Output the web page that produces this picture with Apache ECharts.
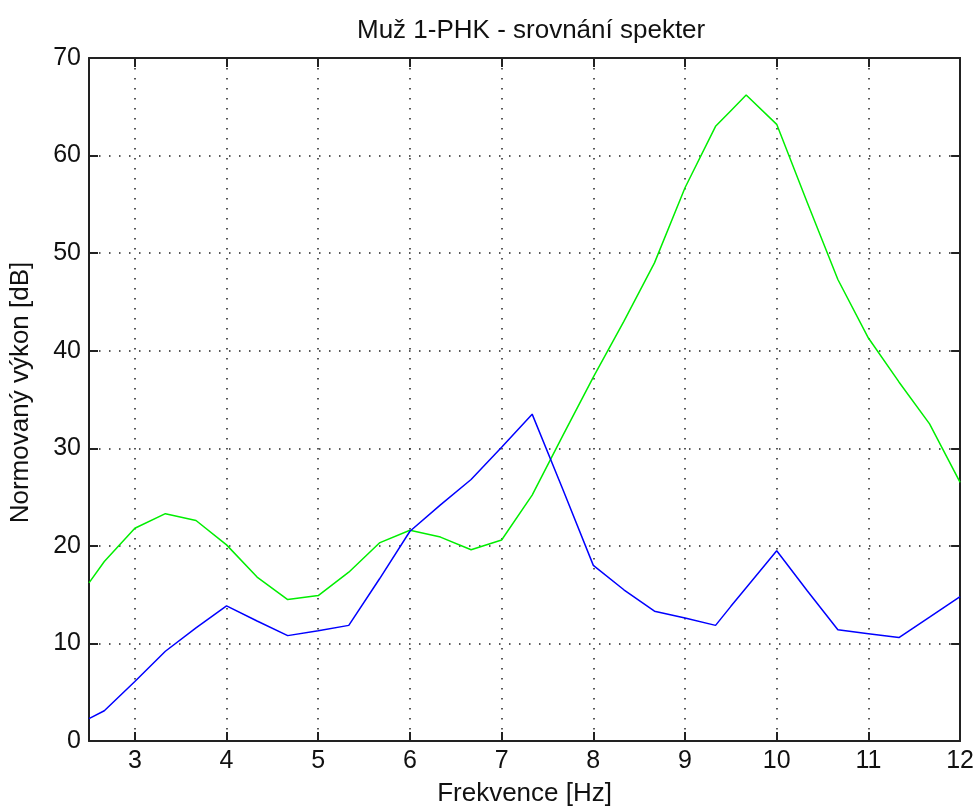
<!DOCTYPE html>
<html>
<head>
<meta charset="utf-8">
<title>Muž 1-PHK - srovnání spekter</title>
<script src="https://cdn.jsdelivr.net/npm/echarts@6/dist/echarts.min.js"></script>
<style>
  html, body { margin: 0; padding: 0; background: #fff; }
  #chart { width: 977px; height: 812px; }
</style>
</head>
<body>
<div id="chart"></div>
<script>
  // frekvence [Hz] - body
  var freq = [2.5, 2.667, 3, 3.333, 3.667, 4, 4.333, 4.667, 5, 5.333, 5.667, 6, 6.333, 6.667, 7,
              7.333, 7.667, 8, 8.333, 8.667, 9, 9.333, 9.5, 9.667, 10, 10.333, 10.667, 11, 11.333, 11.667, 12];
  // zelená křivka
  var zelena = [16.2, 18.4, 21.8, 23.3, 22.6, 20.1, 16.8, 14.5, 14.9, 17.3, 20.3, 21.6, 20.9, 19.6, 20.6,
                25.2, 31.3, 37.3, 43.0, 49.0, 56.7, 63.0, 64.6, 66.2, 63.2, 55.2, 47.3, 41.3, 36.8, 32.5, 26.5];
  // modrá křivka
  var modra = [2.3, 3.1, 6.1, 9.2, 11.6, 13.85, 12.3, 10.8, 11.3, 11.85, 16.6, 21.5, 24.2, 26.8, 30.1,
               33.5, 25.8, 18.0, 15.5, 13.3, 12.6, 11.85, 13.8, 15.7, 19.5, 15.4, 11.4, 11.0, 10.6, 12.7, 14.8];
  var xTicks = [3, 4, 5, 6, 7, 8, 9, 10, 11, 12];

  var font = '"Liberation Sans", Arial, sans-serif';

  function pary(vals) {
    return freq.map(function (f, i) { return [f, vals[i]]; });
  }

  var myChart = echarts.init(document.getElementById('chart'));

  var gridLine = { show: true, lineStyle: { color: '#222', width: 1.5, type: [1.5, 8.5] } };

  myChart.setOption({
    backgroundColor: '#fff',
    animation: false,
    title: {
      text: 'Muž 1-PHK - srovnání spekter',
      left: 352,
      top: 13,
      textStyle: { fontFamily: font, fontSize: 26, fontWeight: 'normal', color: '#111' }
    },
    grid: { left: 89, right: 16, top: 58, bottom: 68 },
    xAxis: [{
      type: 'value',
      min: 2.5,
      max: 12,
      name: 'Frekvence [Hz]',
      nameLocation: 'middle',
      nameGap: 40,
      nameTextStyle: { fontFamily: font, fontSize: 26, color: '#111' },
      axisLine: { show: true, onZero: false, lineStyle: { color: '#222', width: 2 } },
      axisTick: { show: true, inside: true, length: 9, customValues: xTicks, lineStyle: { color: '#222', width: 2 } },
      axisLabel: { customValues: xTicks, margin: 8, fontFamily: font, fontSize: 25, color: '#111' },
      splitLine: gridLine
    }, {
      // horní hrana rámečku
      type: 'value',
      position: 'top',
      min: 2.5,
      max: 12,
      axisLine: { show: true, onZero: false, lineStyle: { color: '#222', width: 2 } },
      axisTick: { show: true, inside: true, length: 9, customValues: xTicks, lineStyle: { color: '#222', width: 2 } },
      axisLabel: { show: false },
      splitLine: { show: false }
    }],
    yAxis: [{
      type: 'value',
      min: 0,
      max: 70,
      interval: 10,
      name: 'Normovaný výkon [dB]',
      nameLocation: 'middle',
      nameGap: 55,
      nameTextStyle: { fontFamily: font, fontSize: 26, color: '#111', padding: [0, 0, 0, 14] },
      axisLine: { show: true, onZero: false, lineStyle: { color: '#222', width: 2 } },
      axisTick: { show: true, inside: true, length: 9, lineStyle: { color: '#222', width: 2 } },
      axisLabel: { margin: 8, fontFamily: font, fontSize: 25, color: '#111' },
      splitLine: gridLine
    }, {
      // pravá hrana rámečku
      type: 'value',
      position: 'right',
      min: 0,
      max: 70,
      interval: 10,
      axisLine: { show: true, onZero: false, lineStyle: { color: '#222', width: 2 } },
      axisTick: { show: true, inside: true, length: 9, lineStyle: { color: '#222', width: 2 } },
      axisLabel: { show: false },
      splitLine: { show: false }
    }],
    series: [{
      name: 'zelená',
      type: 'line',
      data: pary(zelena),
      showSymbol: false,
      lineStyle: { color: '#00ee00', width: 1.5 },
      clip: true
    }, {
      name: 'modrá',
      type: 'line',
      data: pary(modra),
      showSymbol: false,
      lineStyle: { color: '#0000ff', width: 1.5 },
      clip: true
    }]
  });
</script>
</body>
</html>
